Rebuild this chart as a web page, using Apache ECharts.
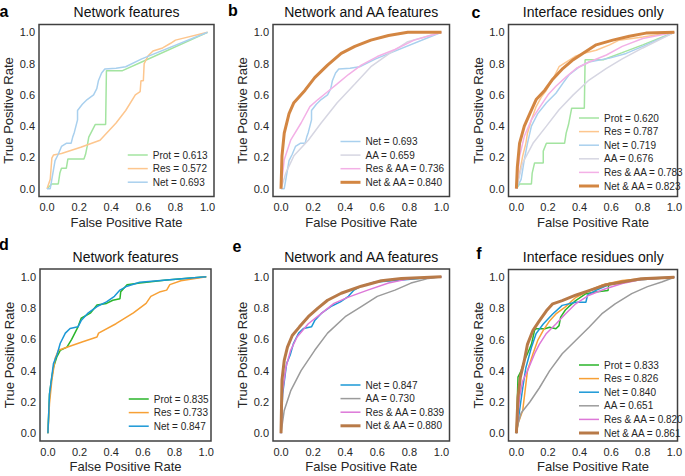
<!DOCTYPE html>
<html><head><meta charset="utf-8">
<script src="https://cdn.jsdelivr.net/npm/echarts@6/dist/echarts.min.js"></script>
<style>html,body{margin:0;padding:0;background:#fff}#c{width:685px;height:476px}</style>
</head><body><div id="c"></div>
<script>
// ---------- tick labels ----------
const xTicks = [0, 0.2, 0.4, 0.6, 0.8, 1.0];
const yTicks = [0, 0.2, 0.4, 0.6, 0.8, 1.0];

// ---------- panel a (Network features, top) ----------
const a_prot = [[0,0],[0.03,0.03],[0.07,0.03],[0.08,0.1],[0.09,0.13],[0.12,0.13],[0.13,0.19],[0.23,0.19],[0.24,0.22],[0.25,0.27],[0.26,0.33],[0.28,0.37],[0.3,0.41],[0.365,0.41],[0.37,0.755],[0.47,0.755],[0.6,0.815],[1,1]];
const a_res = [[0,0],[0.02,0.06],[0.03,0.195],[0.04,0.215],[0.09,0.225],[0.21,0.265],[0.33,0.31],[0.43,0.42],[0.49,0.5],[0.55,0.6],[0.58,0.62],[0.585,0.69],[0.6,0.69],[0.605,0.8],[0.63,0.85],[0.66,0.88],[0.72,0.9],[0.77,0.93],[0.8,0.95],[1,1]];
const a_net = [[0,0],[0.02,0],[0.05,0.18],[0.07,0.22],[0.09,0.27],[0.12,0.29],[0.15,0.29],[0.16,0.33],[0.17,0.36],[0.19,0.44],[0.19,0.5],[0.22,0.54],[0.25,0.57],[0.29,0.6],[0.31,0.64],[0.32,0.69],[0.34,0.74],[0.36,0.765],[0.43,0.77],[0.49,0.78],[0.59,0.83],[1,1]];

// ---------- panel b (Network and AA features, top) ----------
const b_aa = [[0,0],[0.03,0.1],[0.08,0.21],[0.17,0.31],[0.25,0.42],[0.35,0.55],[0.46,0.67],[0.56,0.78],[0.67,0.86],[0.79,0.94],[1,1]];
const b_resaa = [[0,0],[0.02,0.185],[0.06,0.31],[0.125,0.42],[0.18,0.525],[0.23,0.57],[0.29,0.62],[0.35,0.67],[0.42,0.73],[0.5,0.79],[0.6,0.845],[0.71,0.89],[0.83,0.95],[1,1]];
const b_netaa = [[0,0],[0.006,0.21],[0.02,0.355],[0.05,0.48],[0.08,0.55],[0.15,0.63],[0.21,0.71],[0.29,0.79],[0.375,0.865],[0.46,0.91],[0.56,0.95],[0.67,0.98],[0.79,1.0],[1,1]];

// ---------- panel c (Interface residues only, top) ----------
const c_prot = [[0,0],[0.02,0.03],[0.095,0.03],[0.1,0.1],[0.115,0.165],[0.17,0.165],[0.17,0.24],[0.19,0.29],[0.305,0.29],[0.315,0.355],[0.33,0.41],[0.35,0.515],[0.43,0.515],[0.435,0.825],[0.55,0.825],[0.67,0.87],[0.8,0.92],[1,1]];
const c_res = [[0,0],[0.02,0.1],[0.04,0.21],[0.06,0.29],[0.07,0.355],[0.095,0.44],[0.125,0.525],[0.16,0.59],[0.19,0.63],[0.23,0.7],[0.27,0.78],[0.315,0.81],[0.37,0.845],[0.42,0.865],[0.505,0.885],[0.59,0.92],[0.65,0.95],[0.8,0.97],[1,1]];
const c_net = [[0,0],[0.03,0.06],[0.05,0.185],[0.07,0.29],[0.095,0.4],[0.135,0.48],[0.19,0.55],[0.25,0.61],[0.295,0.675],[0.335,0.73],[0.4,0.78],[0.46,0.81],[0.59,0.835],[0.695,0.865],[0.8,0.91],[1,1]];
const c_aa = [[0,0],[0.04,0.165],[0.105,0.29],[0.19,0.4],[0.27,0.505],[0.36,0.6],[0.46,0.695],[0.57,0.77],[0.67,0.83],[0.8,0.9],[1,1]];
const c_resaa = [[0,0],[0.02,0.205],[0.05,0.335],[0.095,0.44],[0.15,0.525],[0.2,0.6],[0.25,0.655],[0.315,0.715],[0.38,0.77],[0.46,0.81],[0.57,0.855],[0.67,0.91],[0.8,0.96],[1,1]];
const c_netaa = [[0,0],[0.006,0.14],[0.02,0.29],[0.05,0.4],[0.085,0.48],[0.125,0.57],[0.18,0.63],[0.23,0.7],[0.295,0.77],[0.36,0.825],[0.42,0.865],[0.505,0.92],[0.61,0.95],[0.715,0.975],[0.82,0.995],[1,1]];

// ---------- panel d (Network features, bottom) ----------
const d_prot = [[0,0],[0.01,0.25],[0.025,0.36],[0.035,0.42],[0.057,0.49],[0.078,0.53],[0.12,0.55],[0.15,0.6],[0.17,0.64],[0.19,0.68],[0.21,0.735],[0.27,0.77],[0.31,0.82],[0.37,0.83],[0.41,0.85],[0.455,0.86],[0.46,0.905],[0.5,0.95],[0.58,0.96],[0.75,0.98],[1,1]];
const d_res = [[0,0],[0.01,0.19],[0.025,0.34],[0.046,0.48],[0.067,0.53],[0.12,0.55],[0.22,0.585],[0.31,0.615],[0.32,0.64],[0.43,0.7],[0.54,0.77],[0.62,0.83],[0.65,0.875],[0.71,0.905],[0.75,0.915],[0.77,0.95],[0.84,0.975],[1,1]];
const d_net = [[0,0],[0.01,0.25],[0.035,0.445],[0.057,0.5],[0.078,0.575],[0.11,0.64],[0.14,0.67],[0.19,0.68],[0.21,0.72],[0.255,0.77],[0.31,0.81],[0.37,0.84],[0.42,0.875],[0.455,0.915],[0.5,0.94],[0.58,0.965],[0.75,0.98],[1,1]];

// ---------- panel e (Network and AA features, bottom) ----------
const e_aa = [[0,0],[0.02,0.145],[0.06,0.27],[0.125,0.4],[0.21,0.53],[0.29,0.64],[0.4,0.745],[0.5,0.81],[0.6,0.875],[0.71,0.915],[0.81,0.96],[0.92,0.99],[1,1]];
const e_resaa = [[0,0],[0.01,0.27],[0.03,0.42],[0.06,0.53],[0.1,0.615],[0.17,0.7],[0.25,0.765],[0.33,0.83],[0.42,0.87],[0.54,0.915],[0.67,0.96],[0.81,0.99],[1,1]];
const e_netaa = [[0,0],[0.006,0.34],[0.02,0.465],[0.04,0.55],[0.07,0.625],[0.115,0.68],[0.17,0.745],[0.23,0.8],[0.29,0.85],[0.375,0.895],[0.5,0.94],[0.625,0.975],[0.75,0.99],[1,1]];

// ---------- panel f (Interface residues only, bottom) ----------
const f_prot = [[0,0],[0.01,0.36],[0.03,0.4],[0.05,0.465],[0.07,0.51],[0.095,0.57],[0.115,0.66],[0.125,0.67],[0.18,0.67],[0.21,0.68],[0.25,0.67],[0.27,0.69],[0.28,0.745],[0.31,0.79],[0.33,0.81],[0.375,0.85],[0.44,0.895],[0.5,0.905],[0.58,0.915],[0.585,0.96],[0.67,0.97],[0.79,0.985],[1,1]];
const f_res = [[0,0],[0.01,0.06],[0.04,0.145],[0.05,0.23],[0.07,0.4],[0.105,0.51],[0.135,0.595],[0.17,0.66],[0.21,0.72],[0.25,0.765],[0.31,0.81],[0.375,0.87],[0.46,0.915],[0.54,0.95],[0.67,0.98],[0.79,0.99],[1,1]];
const f_net = [[0,0],[0.02,0.145],[0.04,0.29],[0.06,0.42],[0.095,0.55],[0.125,0.64],[0.17,0.7],[0.23,0.765],[0.29,0.82],[0.375,0.84],[0.44,0.84],[0.45,0.885],[0.5,0.915],[0.58,0.95],[0.71,0.975],[0.83,0.995],[1,1]];
const f_aa = [[0,0],[0.01,0.06],[0.03,0.13],[0.085,0.2],[0.145,0.29],[0.21,0.4],[0.29,0.51],[0.375,0.595],[0.46,0.68],[0.54,0.765],[0.625,0.83],[0.73,0.895],[0.83,0.94],[0.92,0.97],[1,1]];
const f_resaa = [[0,0],[0.02,0.23],[0.04,0.335],[0.07,0.4],[0.115,0.51],[0.145,0.57],[0.19,0.64],[0.25,0.7],[0.31,0.765],[0.375,0.83],[0.46,0.885],[0.56,0.925],[0.67,0.96],[0.79,0.985],[1,1]];
const f_netaa = [[0,0],[0.01,0.23],[0.025,0.36],[0.05,0.465],[0.07,0.57],[0.105,0.66],[0.145,0.72],[0.19,0.785],[0.23,0.83],[0.29,0.85],[0.375,0.885],[0.46,0.915],[0.56,0.95],[0.67,0.97],[0.79,0.99],[1,1]];

// ---------- styling ----------
const FONT = "'Liberation Sans', Arial, Helvetica, sans-serif";
const TXT = '#262626';
const C = {
  protL:'#a3e4a0', resL:'#fdc68e', netL:'#a9d0ee', aaL:'#d6d6e2', resaaL:'#f3b0e6', netaaL:'#d38642',
  prot:'#2ab52a', res:'#f7a035', net:'#1b98d6', aa:'#9b9b9b', resaa:'#dd78d8', netaa:'#b87a48'
};

const panels = [
  {letter:'a', lpos:[4,11], title:'Network features', frame:[39,24.5,175,172], xmax:1.04, leg:[127,150],
   series:[['Prot = 0.613',a_prot,C.protL,1.5],['Res = 0.572',a_res,C.resL,1.5],['Net = 0.693',a_net,C.netL,1.5]]},
  {letter:'b', lpos:[233,10], title:'Network and AA features', frame:[273,24.5,176.5,172], xmax:1.05, leg:[339,136.5],
   series:[['Net = 0.693',a_net,C.netL,1.5],['AA = 0.659',b_aa,C.aaL,1.5],['Res & AA = 0.736',b_resaa,C.resaaL,1.5],['Net & AA = 0.840',b_netaa,C.netaaL,3]]},
  {letter:'c', lpos:[476,12], title:'Interface residues only', frame:[508.5,24.5,169.5,172], xmax:1.02, leg:[577.5,113],
   series:[['Prot = 0.620',c_prot,C.protL,1.5],['Res = 0.787',c_res,C.resL,1.5],['Net = 0.719',c_net,C.netL,1.5],['AA = 0.676',c_aa,C.aaL,1.5],['Res & AA = 0.783',c_resaa,C.resaaL,1.5],['Net & AA = 0.823',c_netaa,C.netaaL,3]]},
  {letter:'d', lpos:[4,244], title:'Network features', frame:[40,269,171,172], xmax:1.03, leg:[128,394],
   series:[['Prot = 0.835',d_prot,C.prot,1.5],['Res = 0.733',d_res,C.res,1.5],['Net = 0.847',d_net,C.net,1.5]]},
  {letter:'e', lpos:[237,246], title:'Network and AA features', frame:[273,269,176.5,172], xmax:1.05, leg:[339,380],
   series:[['Net = 0.847',d_net,C.net,1.5],['AA = 0.730',e_aa,C.aa,1.5],['Res & AA = 0.839',e_resaa,C.resaa,1.5],['Net & AA = 0.880',e_netaa,C.netaa,3]]},
  {letter:'f', lpos:[479,253], title:'Interface residues only', frame:[508.5,269.5,169.5,171.5], xmax:1.02, leg:[577.5,360],
   series:[['Prot = 0.833',f_prot,C.prot,1.5],['Res = 0.826',f_res,C.res,1.5],['Net = 0.840',f_net,C.net,1.5],['AA = 0.651',f_aa,C.aa,1.5],['Res & AA = 0.820',f_resaa,C.resaa,1.5],['Net & AA = 0.861',f_netaa,C.netaa,3]]}
];

const fmt = v => v.toFixed(1);
const option = {
  animation:false,
  backgroundColor:'#fff',
  grid: panels.map(p => ({left:p.frame[0], top:p.frame[1], width:p.frame[2], height:p.frame[3],
    show:true, borderColor:'#404040', borderWidth:1.5, backgroundColor:'transparent'})),
  xAxis: panels.map((p,i) => ({type:'value', gridIndex:i, min:-0.05, max:p.xmax,
    axisLine:{show:false}, axisTick:{show:false}, splitLine:{show:false},
    axisLabel:{customValues:xTicks, formatter:fmt, fontSize:11, color:TXT, fontFamily:FONT, margin:5},
    name:'False Positive Rate', nameLocation:'middle', nameGap:19,
    nameTextStyle:{fontSize:13, color:TXT, fontFamily:FONT}})),
  yAxis: panels.map((p,i) => ({type:'value', gridIndex:i, min:-0.05, max:1.05,
    axisLine:{show:false}, axisTick:{show:false}, splitLine:{show:false},
    axisLabel:{customValues:yTicks, formatter:fmt, fontSize:11, color:TXT, fontFamily:FONT, margin:4},
    name:'True Positive Rate', nameLocation:'middle', nameGap:24,
    nameTextStyle:{fontSize:13, color:TXT, fontFamily:FONT}})),
  legend: panels.map(p => ({orient:'vertical', left:p.leg[0], top:p.leg[1], padding:0,
    itemWidth:20, itemHeight:10, itemGap:3.6, selectedMode:false,
    textStyle:{fontSize:10, color:TXT, fontFamily:FONT},
    itemStyle:{opacity:0},
    data:p.series.map(s => ({name:s[0], lineStyle:{width:s[3], color:s[2]}, itemStyle:{opacity:0}}))})),
  series: [],
  graphic: []
};
panels.forEach((p,i) => {
  p.series.forEach((s,k) => {
    option.series.push({type:'line', name:s[0], data:s[1], xAxisIndex:i, yAxisIndex:i,
      symbol:'none', silent:true, lineStyle:{color:s[2], width:s[3]}, itemStyle:{color:s[2]}, z:2+k});
  });
  option.graphic.push({type:'text', x:p.lpos[0], y:p.lpos[1],
    style:{text:p.letter, fontSize:16, fontWeight:'bold', fill:'#000', fontFamily:FONT, align:'center', verticalAlign:'middle'}});
  option.graphic.push({type:'text', x:p.frame[0]+p.frame[2]/2, y:p.frame[1]-12.5,
    style:{text:p.title, fontSize:14, fill:'#111', fontFamily:FONT, align:'center', verticalAlign:'middle'}});
});

const chart = echarts.init(document.getElementById('c'), null, {renderer:'svg', width:685, height:476});
chart.setOption(option);
</script></body></html>
